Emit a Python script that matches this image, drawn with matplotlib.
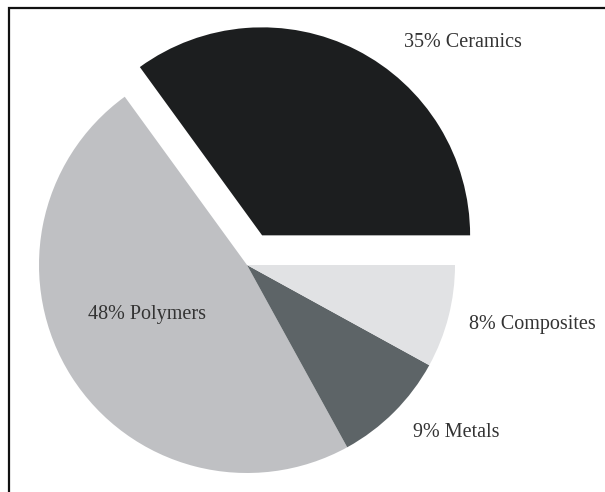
import matplotlib.pyplot as plt
from matplotlib.patches import Rectangle

# Share of each material class
materials = ["Ceramics", "Polymers", "Metals", "Composites"]
shares = [35, 48, 9, 8]
colors = ["#1c1e1f", "#bfc0c3", "#5d6467", "#e1e2e4"]
explode = [0.16, 0, 0, 0]

# Label anchors in pie units (radius = 1)
label_pos = [(1.038, 1.072), (-0.483, -0.240), (1.005, -0.803), (1.373, -0.284)]

plt.rcParams["font.family"] = ["Liberation Serif", "DejaVu Serif"]

fig = plt.figure(figsize=(6.05, 4.92), dpi=100)
ax = fig.add_axes([0, 0, 1, 1])

ax.pie(
    shares,
    colors=colors,
    explode=explode,
    startangle=0,
    counterclock=True,
    radius=1.0,
    wedgeprops={"linewidth": 0},
)

for name, share, (x, y) in zip(materials, shares, label_pos):
    ax.text(x, y, f"{share}% {name}", ha="center", va="center",
            fontsize=14.5, color="#333333")

# 208 px per unit, pie centre at (247, 265) px from top-left
ax.set_xlim(-247 / 208, (605 - 247) / 208)
ax.set_ylim(-(492 - 265) / 208, 265 / 208)
ax.set_aspect("auto")
ax.axis("off")

frame = Rectangle((9 / 605, -0.02), 1.0, (492 - 8) / 492 + 0.02,
                  transform=fig.transFigure, fill=False,
                  edgecolor="#111111", linewidth=1.6)
fig.patches.append(frame)

fig.savefig("out.png", dpi=100, facecolor="white")
